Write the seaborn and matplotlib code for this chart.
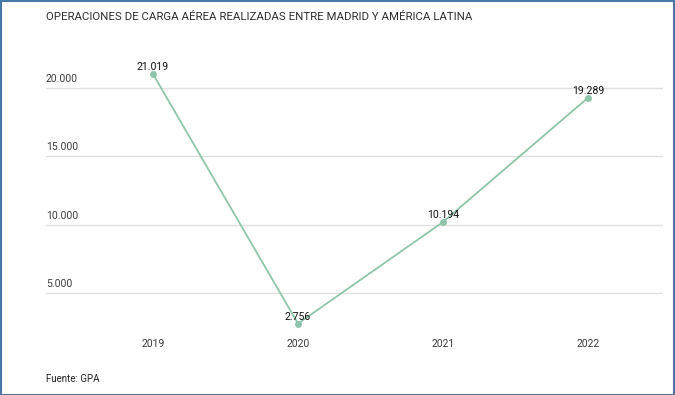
import matplotlib
matplotlib.use("Agg")
import matplotlib.pyplot as plt
import matplotlib.transforms as mtransforms
import seaborn as sns
import pandas as pd
from matplotlib.patches import Rectangle

years = ["2019", "2020", "2021", "2022"]
values = [21019, 2756, 10194, 19289]
ytick_values = [5000, 10000, 15000, 20000]
ytick_labels = ["5.000", "10.000", "15.000", "20.000"]
value_labels = ["21.019", "2.756", "10.194", "19.289"]

title = "OPERACIONES DE CARGA AÉREA REALIZADAS ENTRE MADRID Y AMÉRICA LATINA"
source = "Fuente: GPA"

sns.set_theme(style="white")
plt.rcParams["font.family"] = ["Roboto", "DejaVu Sans"]

df = pd.DataFrame({"year": years, "value": values})
df["x"] = range(len(df))

W, H = 675, 395
fig = plt.figure(figsize=(W / 100, H / 100), dpi=100)
left, right, top, bottom = 46, 662, 40, 335
ax = fig.add_axes([left / W, 1 - bottom / H, (right - left) / W, (bottom - top) / H])

line_color = "#8fc5aa"
sns.lineplot(data=df, x="x", y="value", ax=ax, color=line_color, linewidth=1.3,
             marker="o", markersize=5, markeredgewidth=0, markerfacecolor=line_color)

ax.set_xlim(-0.738, 3.51)
ax.set_ylim(1920, 23514)

blend = mtransforms.blended_transform_factory(fig.transFigure, ax.transData)
for v, lab in zip(ytick_values, ytick_labels):
    ax.plot([left / W, right / W], [v, v], transform=blend, color="#e0e0e0",
            linewidth=1.0, zorder=0, clip_on=False)
    ax.text(left / W, v + 280, lab, transform=blend, ha="left", va="bottom",
            fontsize=7.5, color="#3c3c3c")

for xi, v, lab in zip(df["x"], values, value_labels):
    ax.annotate(lab, (xi, v), xytext=(0, 2.6), textcoords="offset points",
                ha="center", va="baseline", fontsize=7.6, color="#111111", zorder=5)

ax.set_xticks(list(df["x"]))
ax.set_xticklabels(years, fontsize=7.5, color="#3c3c3c")
ax.set_yticks([])
ax.tick_params(axis="x", length=0, pad=3)
ax.set_xlabel("")
ax.set_ylabel("")
for s in ax.spines.values():
    s.set_visible(False)

fig.text(left / W, 1 - 17 / H, title, ha="left", va="center", fontsize=8.2, color="#2e2e2e")
fig.text(left / W, 1 - 379 / H, source, ha="left", va="center", fontsize=7.0, color="#222222")

fig.add_artist(Rectangle((0.5 / W, 0.5 / H), 1 - 1.8 / W, 1 - 1.8 / H, transform=fig.transFigure,
                         fill=False, edgecolor="#4a78a8", linewidth=1.5))

fig.savefig("out.png", dpi=100)
